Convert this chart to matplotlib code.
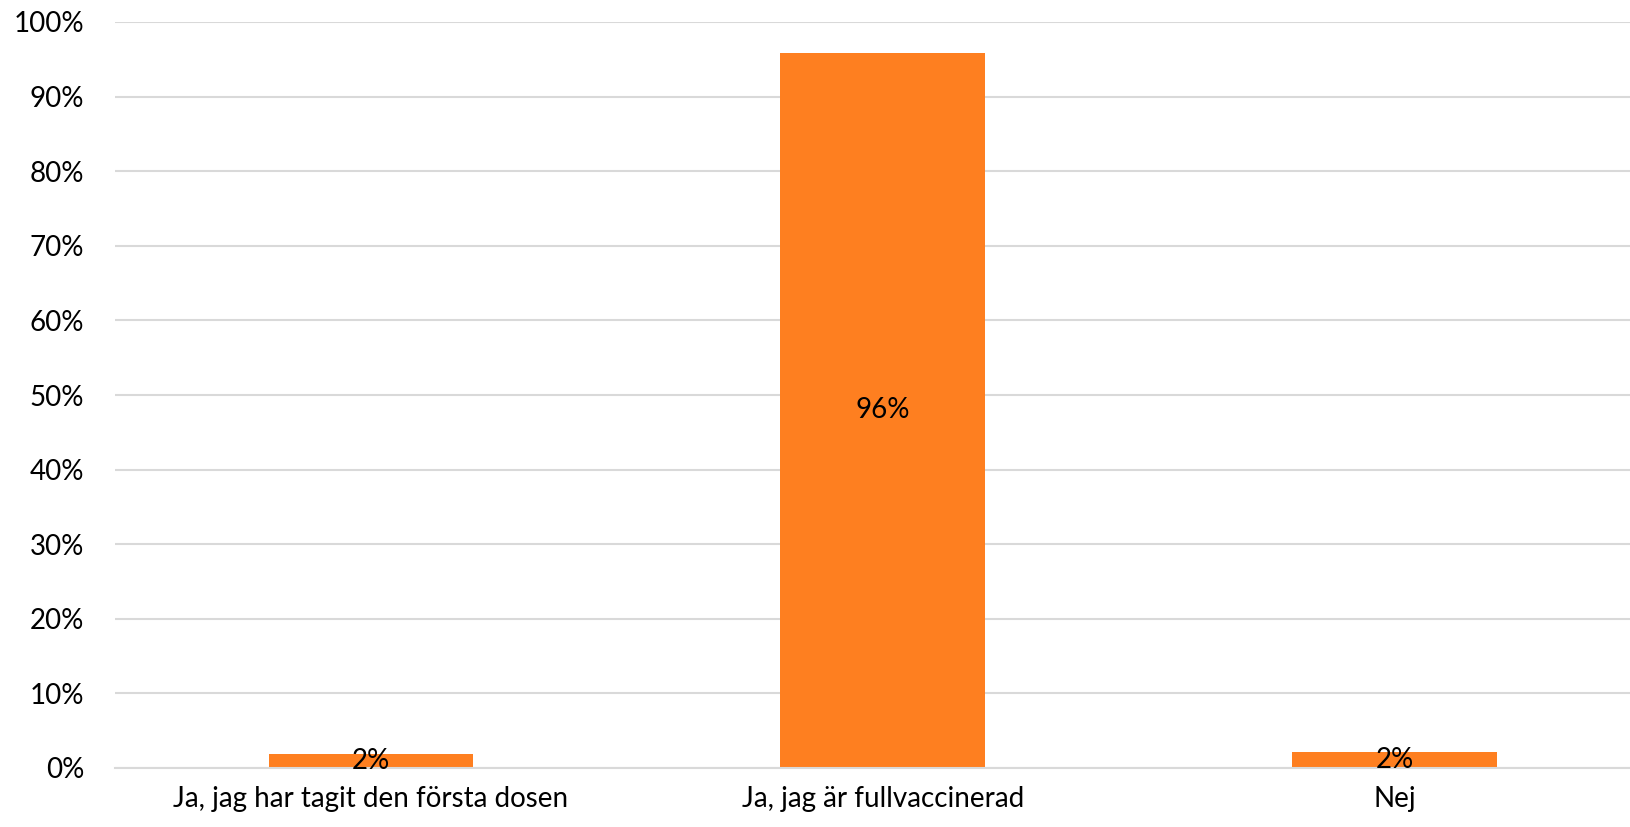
import matplotlib
matplotlib.use("Agg")
import matplotlib.pyplot as plt
from matplotlib.ticker import PercentFormatter

categories = ["Ja, jag har tagit den första dosen", "Ja, jag är fullvaccinerad", "Nej"]
values = [0.019, 0.959, 0.021]
labels = ["2%", "96%", "2%"]

plt.rcParams["font.family"] = ["Lato", "DejaVu Sans"]

fig = plt.figure(figsize=(16.31, 8.27), dpi=100)
ax = fig.add_axes([115 / 1631, 59 / 827, 1 - 115 / 1631, (768 - 22) / 827])

x = list(range(len(categories)))
bars = ax.bar(x, values, width=0.4, color="#FE7F20", zorder=2)
for b, lab in zip(bars, labels):
    ax.text(b.get_x() + b.get_width() / 2, b.get_height() / 2, lab,
            ha="center", va="center", fontsize=20, color="black", zorder=3)

ax.set_ylim(0, 1)
ax.set_xlim(-0.5, 2.462)
ax.set_yticks([i / 10 for i in range(11)])
ax.yaxis.set_major_formatter(PercentFormatter(1.0, decimals=0))
ax.set_xticks(x)
ax.set_xticklabels(categories)

ax.grid(axis="y", color="#D9D9D9", linewidth=1.5, zorder=0)
for s in ["left", "right", "top"]:
    ax.spines[s].set_visible(False)
ax.spines["bottom"].set_color("#D9D9D9")
ax.spines["bottom"].set_linewidth(1.5)
ax.tick_params(axis="y", length=0, pad=22, labelsize=20)
ax.tick_params(axis="x", length=0, pad=13, labelsize=20)

fig.savefig("out.png", dpi=100)
